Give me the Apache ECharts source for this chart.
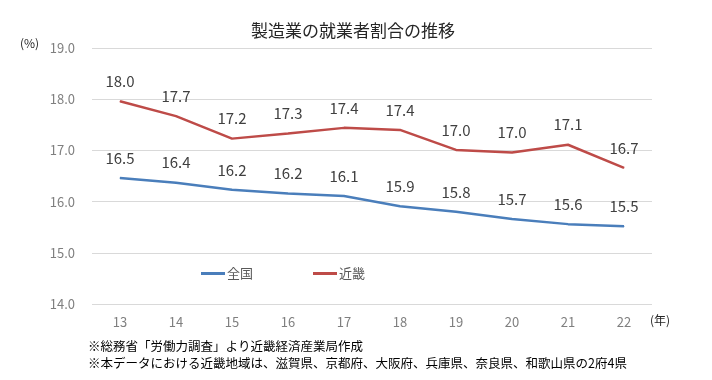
<!DOCTYPE html>
<html><head><meta charset="utf-8">
<script src="https://cdn.jsdelivr.net/npm/echarts@6/dist/echarts.min.js"></script>
<style>html,body{margin:0;padding:0;background:#fff}#c{width:712px;height:380px}</style>
</head><body><div id="c"></div>
<script>
const categories = ['13','14','15','16','17','18','19','20','21','22'];
const zenkoku = [16.46,16.37,16.23,16.16,16.11,15.91,15.80,15.66,15.56,15.52];
const kinki = [17.96,17.67,17.23,17.33,17.44,17.40,17.01,16.96,17.11,16.66];
const zenkokuLabels = ['16.5','16.4','16.2','16.2','16.1','15.9','15.8','15.7','15.6','15.5'];
const kinkiLabels = ['18.0','17.7','17.2','17.3','17.4','17.4','17.0','17.0','17.1','16.7'];
const yTicks = {min:14, max:19, interval:1};
const FONT = '"Noto Sans CJK JP", "Noto Sans", sans-serif';

const chart = echarts.init(document.getElementById('c'), null, {renderer:'canvas'});
function lbl(arr){ return {show:true, position:'top', distance:12, color:'#404040', fontSize:15, fontFamily:FONT,
  formatter: p => arr[p.dataIndex]}; }
chart.setOption({
  animation:false,
  textStyle:{fontFamily:FONT},
  title:{text:'製造業の就業者割合の推移', left:348, textAlign:'center', top:17,
    textStyle:{fontSize:17, fontWeight:'normal', color:'#262626', fontFamily:FONT}},
  grid:{left:92, right:60, top:48, bottom:76},
  legend:{left:196, top:262, itemWidth:24, itemHeight:3, itemGap:60, icon:'rect',
    textStyle:{fontSize:13, color:'#595959', padding:[0,0,0,-3], fontFamily:FONT},
    data:['全国','近畿']},
  xAxis:{type:'category', data:categories, boundaryGap:true,
    axisLine:{show:false}, axisTick:{show:false},
    axisLabel:{color:'#7f7f7f', fontSize:13, margin:12}},
  yAxis:{type:'value', min:yTicks.min, max:yTicks.max, interval:yTicks.interval,
    axisLabel:{color:'#7f7f7f', fontSize:13, margin:17, formatter:v=>v.toFixed(1)},
    splitLine:{lineStyle:{color:'#d9d9d9', width:1}},
    axisLine:{show:false}, axisTick:{show:false}},
  graphic:[
    {type:'text', left:20, top:37, style:{text:'(%)', fontSize:12, fill:'#262626', fontFamily:FONT}},
    {type:'text', left:650, top:314, style:{text:'(年)', fontSize:12, fill:'#262626', fontFamily:FONT}},
    {type:'text', left:88, top:340, style:{text:'※総務省「労働力調査」より近畿経済産業局作成', fontSize:12.5, fill:'#000', fontFamily:FONT}},
    {type:'text', left:88, top:357, style:{text:'※本データにおける近畿地域は、滋賀県、京都府、大阪府、兵庫県、奈良県、和歌山県の2府4県', fontSize:12.5, fill:'#000', fontFamily:FONT}}
  ],
  series:[
    {name:'全国', type:'line', data:zenkoku, symbol:'circle', symbolSize:1, showSymbol:true, color:'#4a7ebb',
      lineStyle:{width:2.5, color:'#4a7ebb'}, label:lbl(zenkokuLabels)},
    {name:'近畿', type:'line', data:kinki, symbol:'circle', symbolSize:1, showSymbol:true, color:'#be4b48',
      lineStyle:{width:2.5, color:'#be4b48'}, label:lbl(kinkiLabels)}
  ]
});
</script></body></html>
